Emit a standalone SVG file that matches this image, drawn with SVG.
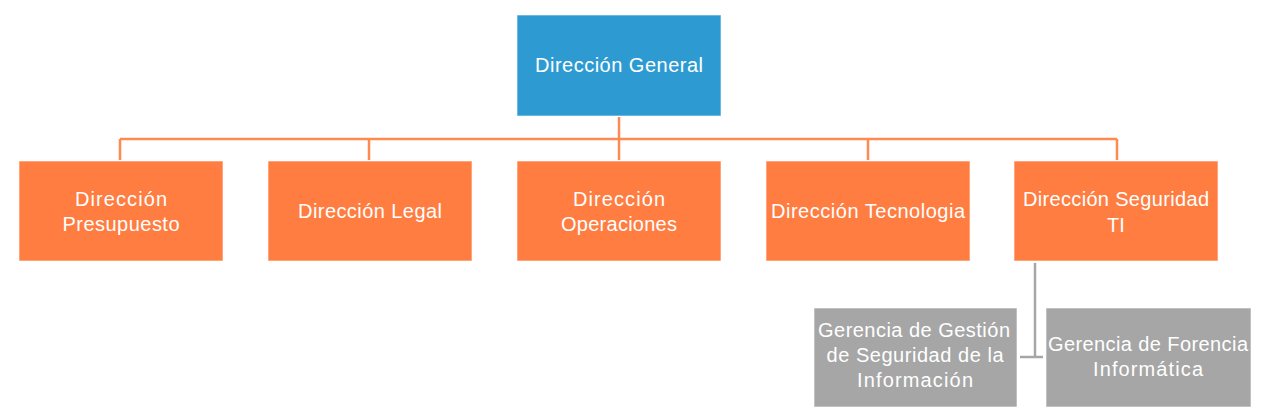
<svg xmlns="http://www.w3.org/2000/svg" width="1263" height="414" viewBox="0 0 1263 414">
<style>
.box{stroke:#ffffff;stroke-opacity:0.6;stroke-width:1}
.blue{fill:#2D9BD1}
.orange{fill:#FF7D41}
.gray{fill:#A6A6A6}
.t{font-family:"Liberation Sans",Arial,sans-serif;font-size:20px;fill:#ffffff;text-anchor:middle}
.c1{fill:none;stroke:#FF8A50;stroke-width:2.5}
.c2{fill:none;stroke:#A6A6A6;stroke-width:2.5}
</style>
<rect width="1263" height="414" fill="#ffffff"/>
<g id="connectors">
<path class="c1" d="M619 117 V160 M120 139 H1117 M120 139 V160 M369 139 V160 M868 139 V160 M1117 139 V160"/>
<path class="c2" d="M1035 263 V357 M1020 357 H1043"/>
</g>
<g id="n-general">
<rect class="box blue" x="517" y="15" width="204" height="101"/>
<text class="t" x="619" y="72" textLength="168" lengthAdjust="spacing">Dirección General</text>
</g>
<g id="n-presupuesto">
<rect class="box orange" x="19" y="161" width="204" height="100"/>
<text class="t" x="121" y="206" textLength="92" lengthAdjust="spacing">Dirección</text>
<text class="t" x="121" y="231" textLength="117" lengthAdjust="spacing">Presupuesto</text>
</g>
<g id="n-legal">
<rect class="box orange" x="268" y="161" width="204" height="100"/>
<text class="t" x="370" y="218" textLength="144" lengthAdjust="spacing">Dirección Legal</text>
</g>
<g id="n-operaciones">
<rect class="box orange" x="517" y="161" width="204" height="100"/>
<text class="t" x="619" y="206" textLength="92" lengthAdjust="spacing">Dirección</text>
<text class="t" x="619" y="231" textLength="116" lengthAdjust="spacing">Operaciones</text>
</g>
<g id="n-tecnologia">
<rect class="box orange" x="766" y="161" width="204" height="100"/>
<text class="t" x="868" y="218" textLength="194" lengthAdjust="spacing">Dirección Tecnologia</text>
</g>
<g id="n-seguridad">
<rect class="box orange" x="1014" y="161" width="204" height="100"/>
<text class="t" x="1116" y="206" textLength="186" lengthAdjust="spacing">Dirección Seguridad</text>
<text class="t" x="1116" y="232">TI</text>
</g>
<g id="n-gestion">
<rect class="box gray" x="814" y="308" width="203" height="99"/>
<text class="t" x="914" y="337" textLength="192" lengthAdjust="spacing">Gerencia de Gestión</text>
<text class="t" x="915" y="362" textLength="177" lengthAdjust="spacing">de Seguridad de la</text>
<text class="t" x="915" y="387" textLength="116" lengthAdjust="spacing">Información</text>
</g>
<g id="n-forencia">
<rect class="box gray" x="1046" y="308" width="205" height="99"/>
<text class="t" x="1148" y="351" textLength="200" lengthAdjust="spacing">Gerencia de Forencia</text>
<text class="t" x="1148" y="376" textLength="110" lengthAdjust="spacing">Informática</text>
</g>
</svg>
